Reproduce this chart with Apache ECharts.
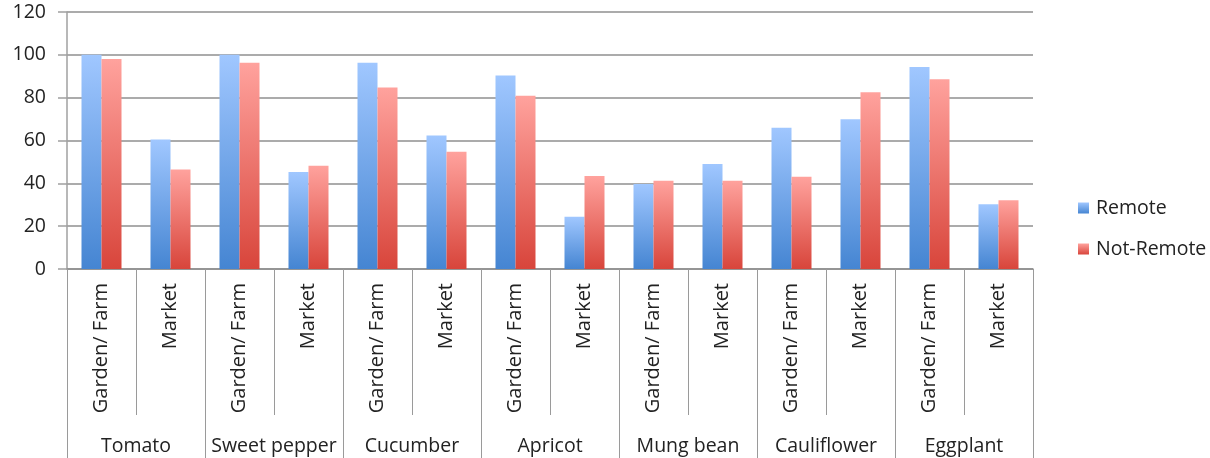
<!DOCTYPE html>
<html>
<head>
<meta charset="utf-8">
<script src="https://cdn.jsdelivr.net/npm/echarts@6/dist/echarts.min.js"></script>
<style>
  html, body { margin: 0; padding: 0; background: #fff; }
  #chart { width: 1210px; height: 458px; }
</style>
</head>
<body>
<div id="chart"></div>
<script>
// Crop groups and the source of each crop within a group
const crops = ['Tomato', 'Sweet pepper', 'Cucumber', 'Apricot', 'Mung bean', 'Cauliflower', 'Eggplant'];
const sources = ['Garden/ Farm', 'Market'];

// Percentages per crop/source pair (Garden/ Farm, Market for each crop in order)
const remote    = [100, 60.5, 100, 45.3, 96.3, 62.3, 90.4, 24.4, 39.7, 49.0, 66.0, 69.9, 94.3, 30.2];
const notRemote = [98, 46.5, 96.3, 48.2, 84.8, 54.8, 80.9, 43.4, 41.2, 41.2, 43.1, 82.5, 88.6, 32.1];

const yTicks = { min: 0, max: 120, step: 20 };

// One category per crop/source pair on the inner axis
const pairLabels = [];
crops.forEach(() => sources.forEach(s => pairLabels.push(s)));

const FONT = 'Open Sans';
const gridGray = '#8f8f8f';

function grad(top, bottom) {
  return new echarts.graphic.LinearGradient(0, 0, 0, 1, [
    { offset: 0, color: top },
    { offset: 1, color: bottom }
  ]);
}

const chart = echarts.init(document.getElementById('chart'), null, { renderer: 'canvas' });

chart.setOption({
  animation: false,
  textStyle: { fontFamily: FONT },
  grid: { left: 67, right: 177, top: 12, bottom: 189, containLabel: false },
  legend: {
    orient: 'vertical',
    left: 1073,
    top: 193,
    itemWidth: 11,
    itemHeight: 11,
    itemGap: 21,
    icon: 'rect',
    textStyle: { fontFamily: FONT, fontSize: 19.5, color: '#222', padding: [0, 0, 0, 2] },
    data: ['Remote', 'Not-Remote']
  },
  xAxis: [
    {
      type: 'category',
      position: 'bottom',
      data: pairLabels,
      axisLine: { show: true, lineStyle: { color: gridGray, width: 1.5 } },
      axisTick: { show: true, interval: 0, length: 146, lineStyle: { color: '#9a9a9a', width: 1 } },
      axisLabel: {
        interval: 0,
        rotate: 90,
        margin: 14,
        fontFamily: FONT,
        fontSize: 20,
        color: '#222'
      }
    },
    {
      type: 'category',
      position: 'bottom',
      data: crops,
      axisLine: { show: false },
      axisTick: { show: true, interval: 0, length: 189, lineStyle: { color: '#9a9a9a', width: 1 } },
      axisLabel: {
        interval: 0,
        margin: 167,
        fontFamily: FONT,
        fontSize: 19.5,
        color: '#222'
      }
    }
  ],
  yAxis: {
    type: 'value',
    min: yTicks.min,
    max: yTicks.max,
    interval: yTicks.step,
    axisLine: { show: true, lineStyle: { color: '#a0a0a0', width: 1.5 } },
    axisTick: { show: true, inside: false, length: 9, lineStyle: { color: '#a0a0a0', width: 1.5 } },
    axisLabel: { margin: 21, fontFamily: FONT, fontSize: 19.5, color: '#222' },
    splitLine: { show: true, lineStyle: { color: gridGray, width: 1.5 } }
  },
  series: [
    {
      name: 'Remote',
      type: 'bar',
      xAxisIndex: 0,
      data: remote,
      barWidth: 20,
      barGap: '0%',
      itemStyle: { color: grad('#a0c7ff', '#4585d2') }
    },
    {
      name: 'Not-Remote',
      type: 'bar',
      xAxisIndex: 0,
      data: notRemote,
      barWidth: 20,
      barGap: '0%',
      itemStyle: { color: grad('#ffa29d', '#d8453b') }
    }
  ]
});
</script>
</body>
</html>
